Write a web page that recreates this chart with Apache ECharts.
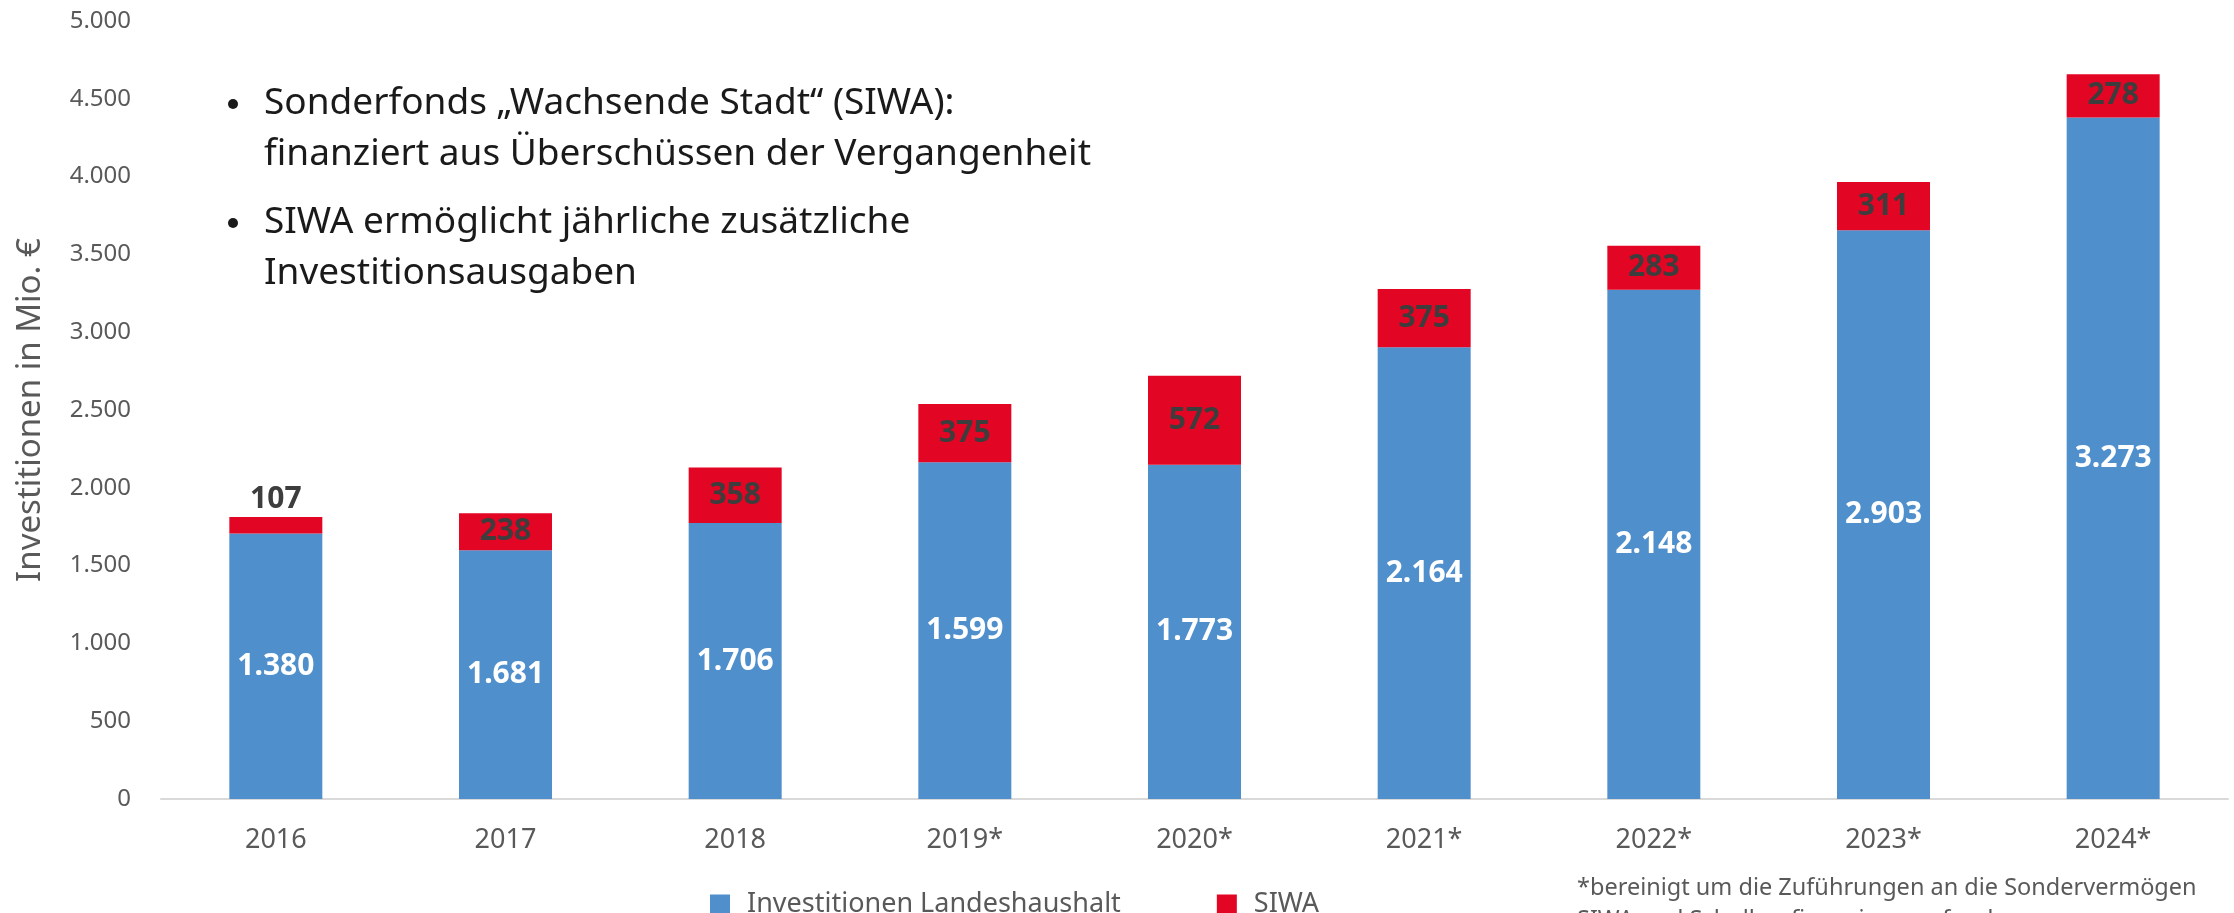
<!DOCTYPE html>
<html>
<head>
<meta charset="utf-8">
<script src="https://cdn.jsdelivr.net/npm/echarts@6/dist/echarts.min.js"></script>
<style>
  html, body { margin: 0; padding: 0; background: #fff; }
  #chart { width: 2234px; height: 913px; }
</style>
</head>
<body>
<div id="chart"></div>
<script>
const years = ["2016", "2017", "2018", "2019*", "2020*", "2021*", "2022*", "2023*", "2024*"];
// bar heights
const landeshaushalt = [1706, 1599, 1773, 2164, 2148, 2903, 3273, 3655, 4380];
const siwa = [107, 238, 358, 375, 572, 375, 283, 311, 278];
// printed labels inside the blue bars (as shown in the original)
const landeshaushaltLabels = ["1.380", "1.681", "1.706", "1.599", "1.773", "2.164", "2.148", "2.903", "3.273"];
const yTicks = [0, 500, 1000, 1500, 2000, 2500, 3000, 3500, 4000, 4500, 5000];

const fontFamily = "'Noto Sans', sans-serif";
const blue = "#4f8fcc";
const red = "#e30524";

const fmt = (v) => String(v).replace(/\B(?=(\d{3})+(?!\d))/g, ".");

const chart = echarts.init(document.getElementById("chart"));

const option = {
  animation: false,
  textStyle: { fontFamily },
  grid: { left: 161, right: 6, top: 21, bottom: 114, containLabel: false },
  legend: {
    left: 705,
    top: 886,
    icon: "rect",
    itemWidth: 20,
    itemHeight: 20,
    itemGap: 96,
    textStyle: { fontSize: 27, color: "#595959", fontFamily, padding: [0, 0, 0, 12] },
    data: ["Investitionen Landeshaushalt", "SIWA"],
  },
  xAxis: {
    type: "category",
    data: years,
    axisTick: { show: false },
    axisLine: { lineStyle: { color: "#d9d9d9", width: 2 } },
    axisLabel: { fontSize: 27, color: "#595959", margin: 28 },
  },
  yAxis: {
    type: "value",
    min: yTicks[0],
    max: yTicks[yTicks.length - 1],
    interval: 500,
    splitLine: { show: false },
    axisLine: { show: false },
    axisTick: { show: false },
    axisLabel: { fontSize: 24, color: "#595959", margin: 30, formatter: fmt },
    name: "Investitionen in Mio. €",
    nameLocation: "middle",
    nameRotate: 90,
    nameGap: 114,
    nameTextStyle: { fontSize: 33, color: "#595959" },
  },
  series: [
    {
      name: "Investitionen Landeshaushalt",
      type: "bar",
      stack: "total",
      barWidth: 93,
      itemStyle: { color: blue },
      label: {
        show: true,
        position: "inside",
        color: "#fff",
        fontWeight: "bold",
        fontSize: 30,
        formatter: (p) => landeshaushaltLabels[p.dataIndex],
      },
      data: landeshaushalt,
    },
    {
      name: "SIWA",
      type: "bar",
      stack: "total",
      barWidth: 93,
      itemStyle: { color: red },
      label: {
        show: true,
        position: "inside",
        color: "#3d3d3d",
        fontWeight: "bold",
        fontSize: 30,
        formatter: (p) => fmt(p.value),
      },
      data: siwa.map((v, i) =>
        i === 0 ? { value: v, label: { position: "top", distance: 2 } } : v
      ),
    },
  ],
  graphic: [
    {
      type: "circle",
      shape: { cx: 233, cy: 104, r: 5 },
      style: { fill: "#1a1a1a" },
    },
    {
      type: "text",
      left: 264,
      top: 78,
      style: {
        text: "Sonderfonds „Wachsende Stadt“ (SIWA):\nfinanziert aus Überschüssen der Vergangenheit",
        font: "37px 'Noto Sans'",
        lineHeight: 51,
        fill: "#1a1a1a",
      },
    },
    {
      type: "circle",
      shape: { cx: 233, cy: 223, r: 5 },
      style: { fill: "#1a1a1a" },
    },
    {
      type: "text",
      left: 264,
      top: 197,
      style: {
        text: "SIWA ermöglicht jährliche zusätzliche\nInvestitionsausgaben",
        font: "37px 'Noto Sans'",
        lineHeight: 51,
        fill: "#1a1a1a",
      },
    },
    {
      type: "text",
      left: 1577,
      top: 872,
      style: {
        text: "*bereinigt um die Zuführungen an die Sondervermögen\nSIWA und Schulbaufinanzierungsfonds",
        font: "23.5px 'Noto Sans'",
        lineHeight: 32,
        fill: "#595959",
      },
    },
  ],
};

chart.setOption(option);
</script>
</body>
</html>
